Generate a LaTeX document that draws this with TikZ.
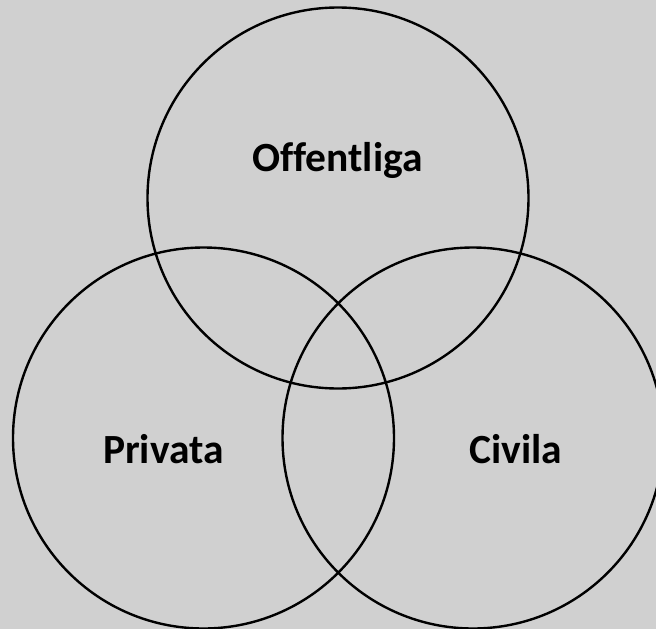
\documentclass[tikz,border=0pt]{standalone}
\usepackage{fontspec}
\setmainfont[Ligatures=NoCommon]{Carlito}
\begin{document}
\begin{tikzpicture}[x=1pt,y=-1pt,
  ring/.style={circle,draw=black,line width=2.4pt,minimum size=381pt,inner sep=0pt},
  lbl/.style={font=\fontsize{41.5}{48}\selectfont\bfseries,anchor=base,inner sep=0pt}]
\definecolor{bg}{RGB}{208,208,208}
\fill[bg] (0,0) rectangle (656,629);
\useasboundingbox (0,0) rectangle (656,629);
\clip (0,0) rectangle (656,629);
\node[ring] (top) at (338,198) {};
\node[ring] (left) at (203.5,438) {};
\node[ring] (right) at (473,438) {};
\node[lbl] (toplbl) at (337.5,171.5) {Offentliga};
\node[lbl] (leftlbl) at (163.5,463.5) {Privata};
\node[lbl] (rightlbl) at (516,463.5) {Civila};
\end{tikzpicture}
\end{document}
